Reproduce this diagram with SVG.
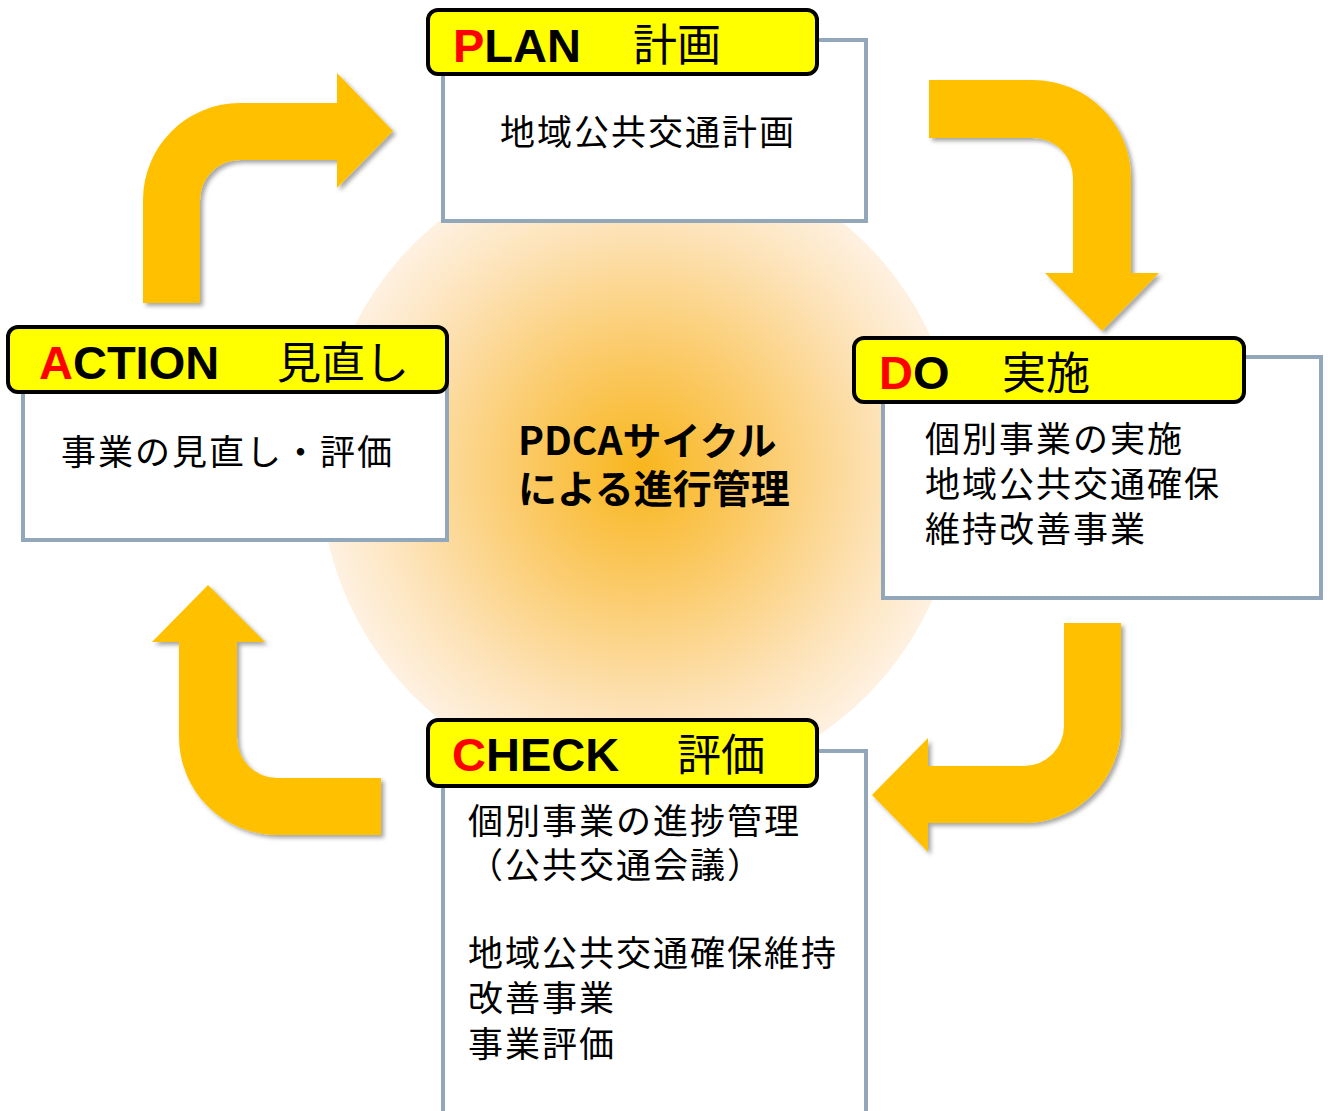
<svg xmlns="http://www.w3.org/2000/svg" width="1330" height="1111" viewBox="0 0 1330 1111">
  <defs>
    <radialGradient id="glow" cx="640" cy="470" r="320" gradientUnits="userSpaceOnUse">
      <stop offset="0" stop-color="#F8B61C"/>
      <stop offset="0.35" stop-color="#FBC964"/>
      <stop offset="0.75" stop-color="#FDE2B6"/>
      <stop offset="1" stop-color="#FEF1E1"/>
    </radialGradient>
    <filter id="shadow" x="-10%" y="-10%" width="130%" height="130%">
      <feDropShadow dx="3" dy="3" stdDeviation="2" flood-color="#000" flood-opacity="0.35"/>
    </filter>
    <style>
      .arrow { fill: #FFC000; filter: url(#shadow); }
      .body { fill: #fff; stroke: #93A7BA; stroke-width: 4; }
      .head { fill: #FFFF00; stroke: #000; stroke-width: 4; }
      .lat { font-family: "Liberation Sans", Arial, sans-serif; font-weight: bold; font-size: 47px; fill: #000; }
      .red { fill: #FF0000; }
      .hj { font-family: "Noto Sans CJK JP", sans-serif; font-size: 44px; fill: #000; }
      .txt { font-family: "Noto Sans CJK JP", sans-serif; font-size: 35px; letter-spacing: 2px; fill: #000; }
      .ctr { font-family: "Noto Sans CJK JP", sans-serif; font-weight: bold; font-size: 39px; fill: #000; }
    </style>
  </defs>

  <circle cx="640" cy="470" r="320" fill="url(#glow)"/>

  <g id="connectors">
    <path class="arrow" d="M143,303 L143,200 A97,97 0 0 1 240,103 L337,103 L337,73 L393,131 L337,188 L337,160 L240,160 A40,40 0 0 0 200,200 L200,303 Z"/>
    <path class="arrow" d="M929,80 L1033,80 A98,98 0 0 1 1131,178 L1131,273 L1159,273 L1102,331 L1045,273 L1073,273 L1073,178 A40,40 0 0 0 1033,138 L929,138 Z"/>
    <path class="arrow" d="M1064,623 L1121,623 L1121,726 A97,97 0 0 1 1024,823 L928,823 L928,852 L872,795 L928,738 L928,766 L1024,766 A40,40 0 0 0 1064,726 Z"/>
    <path class="arrow" d="M381,778 L381,835 L277,835 A98,98 0 0 1 179,737 L179,642 L152,642 L208,585 L265,642 L237,642 L237,738 A40,40 0 0 0 277,778 Z"/>
  </g>

  <g id="center">
    <text class="ctr" x="518" y="455">PDCAサイクル</text>
    <text class="ctr" x="518" y="503">による進行管理</text>
  </g>

  <g id="plan">
    <rect class="body" x="443" y="40" width="423" height="181"/>
    <rect class="head" x="428" y="10" width="389" height="64" rx="10"/>
    <text x="453" y="62"><tspan class="lat red">P</tspan><tspan class="lat">LAN</tspan></text>
    <text class="hj" x="633" y="61">計画</text>
    <text class="txt" x="500" y="145">地域公共交通計画</text>
  </g>

  <g id="do">
    <rect class="body" x="883" y="357" width="438" height="241"/>
    <rect class="head" x="854" y="338" width="390" height="64" rx="10"/>
    <text x="879" y="389"><tspan class="lat red">D</tspan><tspan class="lat">O</tspan></text>
    <text class="hj" x="1002" y="389">実施</text>
    <text class="txt" x="925" y="452">個別事業の実施</text>
    <text class="txt" x="925" y="497">地域公共交通確保</text>
    <text class="txt" x="925" y="542">維持改善事業</text>
  </g>

  <g id="action">
    <rect class="body" x="23" y="357" width="424" height="183"/>
    <rect class="head" x="8" y="327" width="439" height="65" rx="10"/>
    <text x="39" y="379"><tspan class="lat red">A</tspan><tspan class="lat">CTION</tspan></text>
    <text class="hj" x="277" y="379">見直し</text>
    <text class="txt" x="61" y="465">事業の見直し・評価</text>
  </g>

  <g id="check">
    <rect class="body" x="443" y="751" width="423" height="380"/>
    <rect class="head" x="428" y="720" width="389" height="66" rx="10"/>
    <text x="452" y="771"><tspan class="lat red">C</tspan><tspan class="lat">HECK</tspan></text>
    <text class="hj" x="677" y="771">評価</text>
    <text class="txt" x="468" y="834">個別事業の進捗管理</text>
    <text class="txt" x="468" y="878">（公共交通会議）</text>
    <text class="txt" x="468" y="966">地域公共交通確保維持</text>
    <text class="txt" x="468" y="1011">改善事業</text>
    <text class="txt" x="468" y="1057">事業評価</text>
  </g>
</svg>
